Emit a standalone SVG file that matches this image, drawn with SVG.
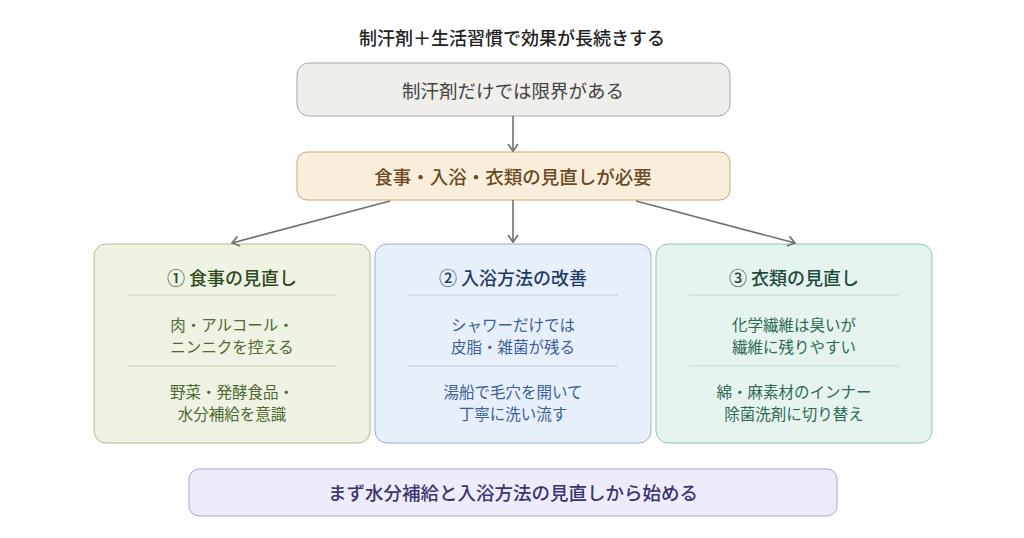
<svg xmlns="http://www.w3.org/2000/svg" width="1024" height="538" viewBox="0 0 1024 538">
<defs>
<marker id="ah" markerWidth="12" markerHeight="12" refX="9" refY="6" orient="auto" markerUnits="userSpaceOnUse">
<path d="M2,1 L9,6 L2,11" fill="none" stroke="#707070" stroke-width="1.6"/>
</marker>
</defs>
<style>
text{font-family:"Noto Sans CJK JP","Noto Sans",sans-serif;text-anchor:middle;dominant-baseline:central}
.t{font-size:18.5px}
.m{font-weight:500}
.h{font-size:18px;font-weight:500}
.b{font-size:15.5px}
.c{stroke:#707070;stroke-width:1.6;fill:none}
</style>
<rect width="1024" height="538" fill="#ffffff"/>
<text x="512" y="37" class="t m" fill="#222" style="font-size:18px">制汗剤＋生活習慣で効果が長続きする</text>
<g id="n1"><rect x="297" y="63" width="433" height="53" rx="12" fill="#efeeea" stroke="#a8a8a8"/><text x="513" y="90" class="t" fill="#444">制汗剤だけでは限界がある</text></g>
<g id="n2"><rect x="297" y="152" width="433" height="48" rx="10" fill="#f9eedb" stroke="#c9a679"/><text x="513" y="176" class="t m" fill="#6b4a1f">食事・入浴・衣類の見直しが必要</text></g>
<g id="n3"><rect x="94" y="244" width="276" height="199" rx="12" fill="#eef3e3" stroke="#a9bf8c"/>
<text x="232" y="277" class="h" fill="#2f4a1c">① 食事の見直し</text>
<line x1="127" y1="295" x2="337" y2="295" stroke="#c7d3b6"/>
<text x="232" y="324" class="b" fill="#4d6a30">肉・アルコール・</text><text x="232" y="346" class="b" fill="#4d6a30">ニンニクを控える</text>
<line x1="127" y1="366" x2="337" y2="366" stroke="#c7d3b6"/>
<text x="232" y="391" class="b" fill="#4d6a30">野菜・発酵食品・</text><text x="232" y="413" class="b" fill="#4d6a30">水分補給を意識</text></g>
<g id="n4"><rect x="375" y="244" width="276" height="199" rx="12" fill="#e7effa" stroke="#93b0d8"/>
<text x="513" y="277" class="h" fill="#1f3a66">② 入浴方法の改善</text>
<line x1="408" y1="295" x2="618" y2="295" stroke="#bccde6"/>
<text x="513" y="324" class="b" fill="#3a5f99">シャワーだけでは</text><text x="513" y="346" class="b" fill="#3a5f99">皮脂・雑菌が残る</text>
<line x1="408" y1="366" x2="618" y2="366" stroke="#bccde6"/>
<text x="513" y="391" class="b" fill="#3a5f99">湯船で毛穴を開いて</text><text x="513" y="413" class="b" fill="#3a5f99">丁寧に洗い流す</text></g>
<g id="n5"><rect x="656" y="244" width="276" height="199" rx="12" fill="#e5f4ee" stroke="#8fc4ae"/>
<text x="794" y="277" class="h" fill="#1d4a3a">③ 衣類の見直し</text>
<line x1="689" y1="295" x2="899" y2="295" stroke="#bcdccf"/>
<text x="794" y="324" class="b" fill="#2f6a55">化学繊維は臭いが</text><text x="794" y="346" class="b" fill="#2f6a55">繊維に残りやすい</text>
<line x1="689" y1="366" x2="899" y2="366" stroke="#bcdccf"/>
<text x="794" y="391" class="b" fill="#2f6a55">綿・麻素材のインナー</text><text x="794" y="413" class="b" fill="#2f6a55">除菌洗剤に切り替え</text></g>
<g id="n6"><rect x="189" y="469" width="648" height="47" rx="10" fill="#eeecfb" stroke="#a9a2dc"/><text x="513" y="492" class="t m" fill="#3a3470">まず水分補給と入浴方法の見直しから始める</text></g>
<g id="connectors">
<line class="c" x1="513" y1="116" x2="513" y2="151" marker-end="url(#ah)"/>
<line class="c" x1="513" y1="200" x2="513" y2="242" marker-end="url(#ah)"/>
<line class="c" x1="390" y1="201" x2="232" y2="243" marker-end="url(#ah)"/>
<line class="c" x1="636" y1="201" x2="795" y2="243" marker-end="url(#ah)"/>
</g>
</svg>
